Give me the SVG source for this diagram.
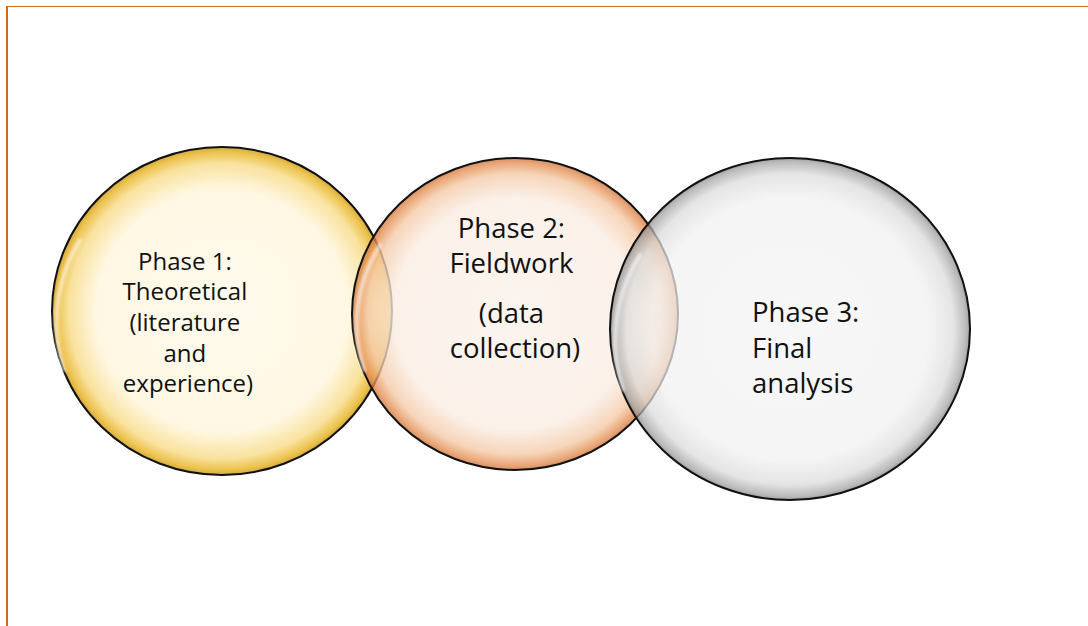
<svg xmlns="http://www.w3.org/2000/svg" width="1088" height="626" viewBox="0 0 1088 626">
<style>
.frame{stroke:#D2691E;fill:none}
.bubble{stroke:#111;stroke-width:2}
.lbl{font-family:"Open Sans","Liberation Sans",sans-serif;fill:#111}
.hl{fill:none;stroke:#fff;stroke-linecap:round;opacity:0.6;filter:url(#soft)}
</style>
<defs>
<filter id="soft" x="-20%" y="-20%" width="140%" height="140%"><feGaussianBlur stdDeviation="1.5"/></filter>
<radialGradient id="gY" cx="50%" cy="50%" r="50%">
<stop offset="0" stop-color="#FFF9EA"/>
<stop offset="0.74" stop-color="#FFF6DE"/>
<stop offset="0.9" stop-color="#F8DD8C"/>
<stop offset="0.97" stop-color="#E9B72E"/>
<stop offset="1" stop-color="#C99A1C"/>
</radialGradient>
<radialGradient id="gO" cx="50%" cy="50%" r="50%">
<stop offset="0" stop-color="#FBF1EA"/>
<stop offset="0.74" stop-color="#FAEDE3"/>
<stop offset="0.9" stop-color="#F4C9A6"/>
<stop offset="0.97" stop-color="#E48E51"/>
<stop offset="1" stop-color="#C9703A"/>
</radialGradient>
<radialGradient id="gG" cx="50%" cy="50%" r="50%">
<stop offset="0" stop-color="#F4F4F4"/>
<stop offset="0.77" stop-color="#F1F1F1"/>
<stop offset="0.91" stop-color="#DADADA"/>
<stop offset="0.98" stop-color="#9E9E9E"/>
<stop offset="1" stop-color="#777"/>
</radialGradient>
</defs>
<g id="frame">
<line class="frame" x1="6" y1="6.5" x2="1088" y2="6.5" stroke-width="1.2"/>
<line class="frame" x1="7" y1="6" x2="7" y2="626" stroke-width="2"/>
</g>
<g id="connectors"></g>
<g id="phase1">
<ellipse class="bubble" cx="222" cy="311" rx="170" ry="164" fill="url(#gY)" fill-opacity="0.85"/>
<path class="hl" stroke-width="4" d="M64,370 A162,158 0 0 1 80,240"/>
<text class="lbl" font-size="24" text-anchor="middle">
<tspan x="188" y="270">Phase 1:</tspan>
<tspan x="188" y="300">Theoretical</tspan>
<tspan x="188" y="331">(literature</tspan>
<tspan x="188" y="362">and</tspan>
<tspan x="188" y="392">experience)</tspan>
</text>
</g>
<g id="phase2">
<ellipse class="bubble" cx="515" cy="314" rx="163" ry="156" fill="url(#gO)" fill-opacity="0.78"/>
<path class="hl" stroke-width="4" d="M364,370 A155,150 0 0 1 380,245"/>
<text class="lbl" font-size="27.5" text-anchor="middle">
<tspan x="515" y="238">Phase 2:</tspan>
<tspan x="515" y="273">Fieldwork</tspan>
<tspan x="515" y="323">(data</tspan>
<tspan x="515" y="358">collection)</tspan>
</text>
</g>
<g id="phase3">
<ellipse class="bubble" cx="790" cy="329" rx="180" ry="171" fill="url(#gG)" fill-opacity="0.72"/>
<path class="hl" stroke-width="4" d="M623,390 A172,165 0 0 1 640,255"/>
<text class="lbl" font-size="27.5">
<tspan x="752" y="322">Phase 3:</tspan>
<tspan x="752" y="358">Final</tspan>
<tspan x="752" y="393">analysis</tspan>
</text>
</g>
</svg>
